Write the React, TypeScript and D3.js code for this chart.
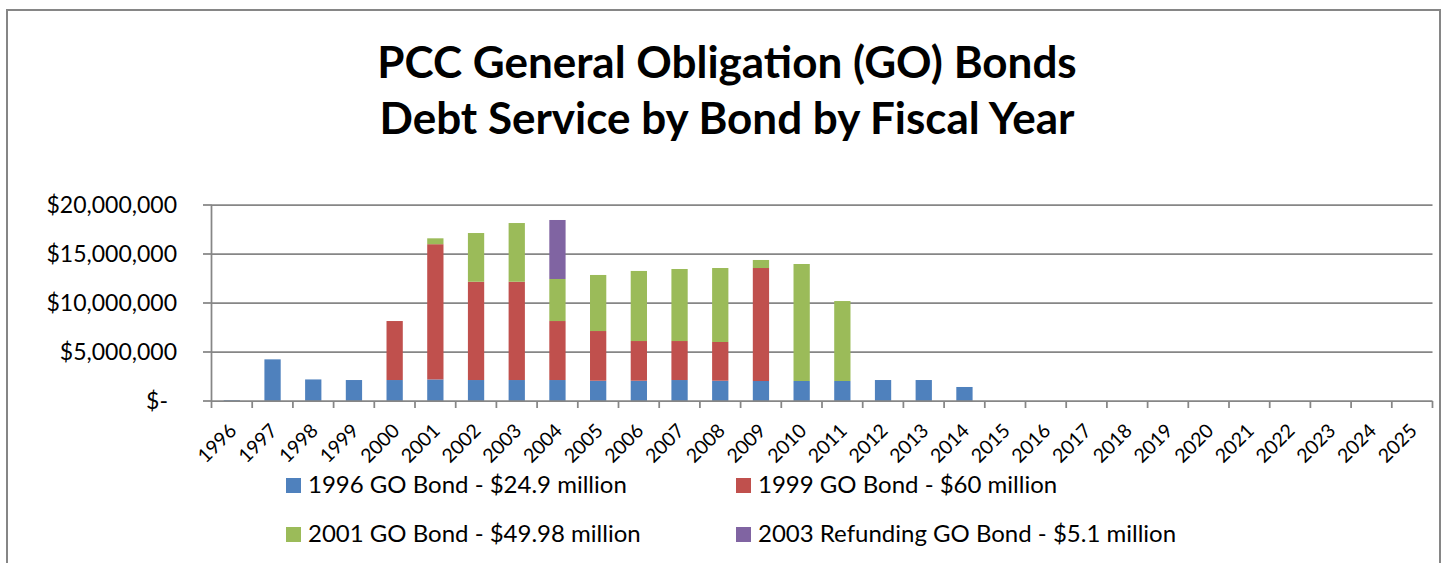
import React from "react";
import * as d3 from "d3";

const years = d3.range(1996, 2026).map(String);
const seriesNames = [
  "1996 GO Bond - $24.9 million",
  "1999 GO Bond - $60 million",
  "2001 GO Bond - $49.98 million",
  "2003 Refunding GO Bond - $5.1 million",
];
const seriesColors = ["#4F81BD", "#C0504D", "#9BBB59", "#8064A2"];
// values in millions of dollars
const bond1996 = [0.08, 4.25, 2.2, 2.14, 2.14, 2.2, 2.14, 2.14, 2.14, 2.07, 2.07, 2.14, 2.07, 2.04, 2.04, 2.04, 2.14, 2.14, 1.43, 0, 0, 0, 0, 0, 0, 0, 0, 0, 0, 0];
const bond1999 = [0, 0, 0, 0, 6.02, 13.8, 10.03, 10.03, 6.02, 5.07, 4.05, 3.98, 3.95, 11.53, 0, 0, 0, 0, 0, 0, 0, 0, 0, 0, 0, 0, 0, 0, 0, 0];
const bond2001 = [0, 0, 0, 0, 0, 0.6, 4.97, 5.99, 4.29, 5.72, 7.15, 7.35, 7.55, 0.82, 11.94, 8.16, 0, 0, 0, 0, 0, 0, 0, 0, 0, 0, 0, 0, 0, 0];
const refund2003 = [0, 0, 0, 0, 0, 0, 0, 0, 6.02, 0, 0, 0, 0, 0, 0, 0, 0, 0, 0, 0, 0, 0, 0, 0, 0, 0, 0, 0, 0, 0];
const yTicks = [0, 5e6, 10e6, 15e6, 20e6];
const titleLines = ["PCC General Obligation (GO) Bonds", "Debt Service by Bond by Fiscal Year"];

const W = 1450;
const H = 563;
const FONT = "Lato, 'Open Sans', sans-serif";
const GRID = "#868686";

export default function App() {
  const seriesData = [bond1996, bond1999, bond2001, refund2003];
  const rows = years.map((yr, i) => {
    const r: any = { year: yr };
    seriesNames.forEach((n, k) => (r[n] = seriesData[k][i] * 1e6));
    return r;
  });
  const stacked = d3.stack().keys(seriesNames)(rows);

  const x = d3.scaleBand<string>().domain(years).range([211.5, 1432.5]).paddingInner(0.6).paddingOuter(0.3);
  const y = d3.scaleLinear().domain([0, 20e6]).range([401, 205]);
  const step = x.step();
  const x0 = x.range()[0];
  const bounds = d3.range(years.length + 1).map((i) => x0 + i * step);
  const fmt = d3.format("$,.0f");

  const legendPos = [
    [286, 478],
    [736, 478],
    [286, 527],
    [736, 527],
  ];

  return (
    <svg width={W} height={H} style={{ position: "absolute", left: 0, top: 0, background: "#fff" }} fontFamily={FONT}>
      <rect x={7} y={10} width={1433} height={600} fill="#fff" stroke={GRID} strokeWidth={2} />
      {titleLines.map((t, i) => (
        <text key={t} x={727} y={78 + i * 56} textAnchor="middle" fontWeight="bold" fontSize={44} fill="#000">
          {t}
        </text>
      ))}
      {/* gridlines */}
      {yTicks.slice(1).map((v) => (
        <line key={v} x1={211} x2={1432.5} y1={y(v)} y2={y(v)} stroke={GRID} strokeWidth={1.75} />
      ))}
      {/* y axis */}
      <line x1={211.5} x2={211.5} y1={y(20e6)} y2={y(0)} stroke={GRID} strokeWidth={1.75} />
      {yTicks.map((v) => (
        <g key={"yt" + v}>
          <line x1={203} x2={211.5} y1={y(v)} y2={y(v)} stroke={GRID} strokeWidth={1.75} />
          <text x={v === 0 ? 168 : 177} y={y(v) + 8} textAnchor="end" fontSize={23} fill="#000">
            {v === 0 ? "$-" : fmt(v)}
          </text>
        </g>
      ))}
      {/* bars */}
      {stacked.map((s, k) => (
        <g key={s.key} fill={seriesColors[k]}>
          {s.map((d, i) =>
            d[1] - d[0] > 0 ? (
              <rect key={i} x={x(years[i])} y={y(d[1])} width={x.bandwidth()} height={y(d[0]) - y(d[1])} />
            ) : null
          )}
        </g>
      ))}
      {/* x axis */}
      <line x1={211} x2={1432.5} y1={y(0)} y2={y(0)} stroke={GRID} strokeWidth={1.75} />
      {bounds.map((b, i) => (
        <line key={"xt" + i} x1={b} x2={b} y1={y(0)} y2={y(0) + 7} stroke={GRID} strokeWidth={1.75} />
      ))}
      {years.map((yr) => (
        <text
          key={"xl" + yr}
          transform={`translate(${(x(yr) as number) + x.bandwidth() / 2 + 6},${y(0) + 31}) rotate(-45)`}
          textAnchor="end"
          fontSize={19.5}
          fill="#000"
        >
          {yr}
        </text>
      ))}
      {/* legend */}
      {seriesNames.map((n, k) => (
        <g key={"lg" + n} transform={`translate(${legendPos[k][0]},${legendPos[k][1]})`}>
          <rect x={0} y={0} width={15} height={15} fill={seriesColors[k]} />
          <text x={22} y={15} fontSize={24} fill="#000">
            {n}
          </text>
        </g>
      ))}
    </svg>
  );
}
